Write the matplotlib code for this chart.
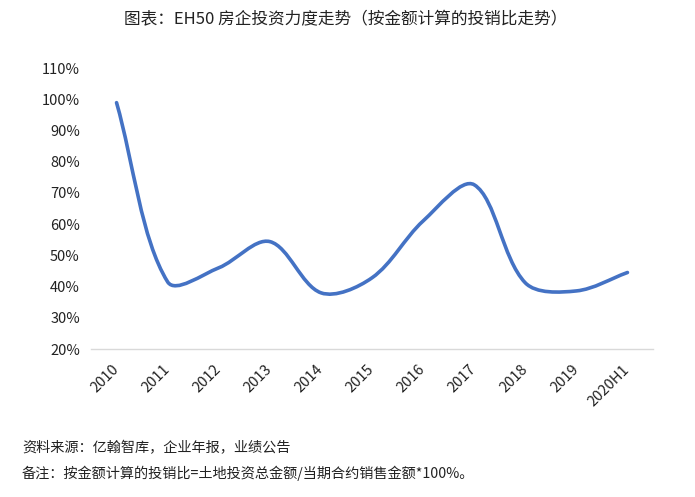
import matplotlib
matplotlib.use("Agg")
import matplotlib.pyplot as plt
import matplotlib.transforms as mtransforms
from matplotlib.path import Path
from matplotlib.patches import PathPatch
import numpy as np

plt.rcParams['font.family'] = ['Noto Sans CJK SC', 'DejaVu Sans']

categories = ["2010", "2011", "2012", "2013", "2014", "2015", "2016", "2017", "2018", "2019", "2020H1"]
ratio = [98.9, 41.5, 46.0, 54.4, 38.0, 42.8, 61.0, 72.6, 41.2, 38.6, 44.5]
yticks = [20, 30, 40, 50, 60, 70, 80, 90, 100, 110]
title = "图表：EH50 房企投资力度走势（按金额计算的投销比走势）"
note1 = "资料来源：亿翰智库，企业年报，业绩公告"
note2 = "备注：按金额计算的投销比=土地投资总金额/当期合约销售金额*100%。"

W, H = 695, 497
fig = plt.figure(figsize=(W / 100, H / 100), dpi=100)
ax = fig.add_axes([91 / W, 1 - 349 / H, (653 - 91) / W, (349 - 68) / H])

n = len(categories)
x = np.arange(n, dtype=float)
y = np.array(ratio, dtype=float)

# Smooth line via cubic Bezier with chord-length-weighted tangents (in display-like units)
sx = (653 - 91) / n          # px per category
sy = (349 - 68) / 90.0       # px per percent
px = x * sx
py = y * sy
d = np.hypot(np.diff(px), np.diff(py))
verts = [(x[0], y[0])]
codes = [Path.MOVETO]
for i in range(n - 1):
    if i > 0:
        tx, ty = px[i + 1] - px[i - 1], py[i + 1] - py[i - 1]
        f = d[i] / (d[i - 1] + d[i]) / 3.0
        c1 = (px[i] + tx * f, py[i] + ty * f)
    else:
        c1 = (px[i] + (px[i + 1] - px[i]) / 3.0, py[i] + (py[i + 1] - py[i]) / 3.0)
    j = i + 1
    if j < n - 1:
        tx, ty = px[j + 1] - px[j - 1], py[j + 1] - py[j - 1]
        f = d[j - 1] / (d[j - 1] + d[j]) / 3.0
        c2 = (px[j] - tx * f, py[j] - ty * f)
    else:
        c2 = (px[j] - (px[j] - px[j - 1]) / 3.0, py[j] - (py[j] - py[j - 1]) / 3.0)
    verts += [(c1[0] / sx, c1[1] / sy), (c2[0] / sx, c2[1] / sy), (x[j], y[j])]
    codes += [Path.CURVE4] * 3
patch = PathPatch(Path(verts, codes), facecolor='none', edgecolor='#4472C4',
                  lw=2.6, capstyle='round', joinstyle='round')
ax.add_patch(patch)

ax.set_xlim(-0.5, n - 0.5)
ax.set_ylim(20, 110)
ax.set_yticks(yticks)
ax.set_yticklabels([f"{v}%" for v in yticks], fontsize=10.5, color='#222222')
ax.set_xticks(x)
ax.set_xticklabels(categories, rotation=45, ha='right', rotation_mode='anchor',
                   fontsize=10.5, color='#222222')
ax.tick_params(axis='both', length=0)
ax.tick_params(axis='y', pad=8)
ax.tick_params(axis='x', pad=6)
offset = mtransforms.ScaledTranslation(-5 / 100, -5 / 100, fig.dpi_scale_trans)
for lab in ax.get_xticklabels():
    lab.set_transform(lab.get_transform() + offset)
for s in ['top', 'right', 'left']:
    ax.spines[s].set_visible(False)
ax.spines['bottom'].set_color('#d9d9d9')
ax.spines['bottom'].set_linewidth(1.0)

fig.text(346 / W, 1 - 20 / H, title, ha='center', va='center', fontsize=12, color='#222222')
fig.text(22 / W, 1 - 448 / H, note1, ha='left', va='center', fontsize=10.2, color='#222222')
fig.text(22 / W, 1 - 473 / H, note2, ha='left', va='center', fontsize=10.2, color='#222222')

fig.savefig("out.png", dpi=100)
